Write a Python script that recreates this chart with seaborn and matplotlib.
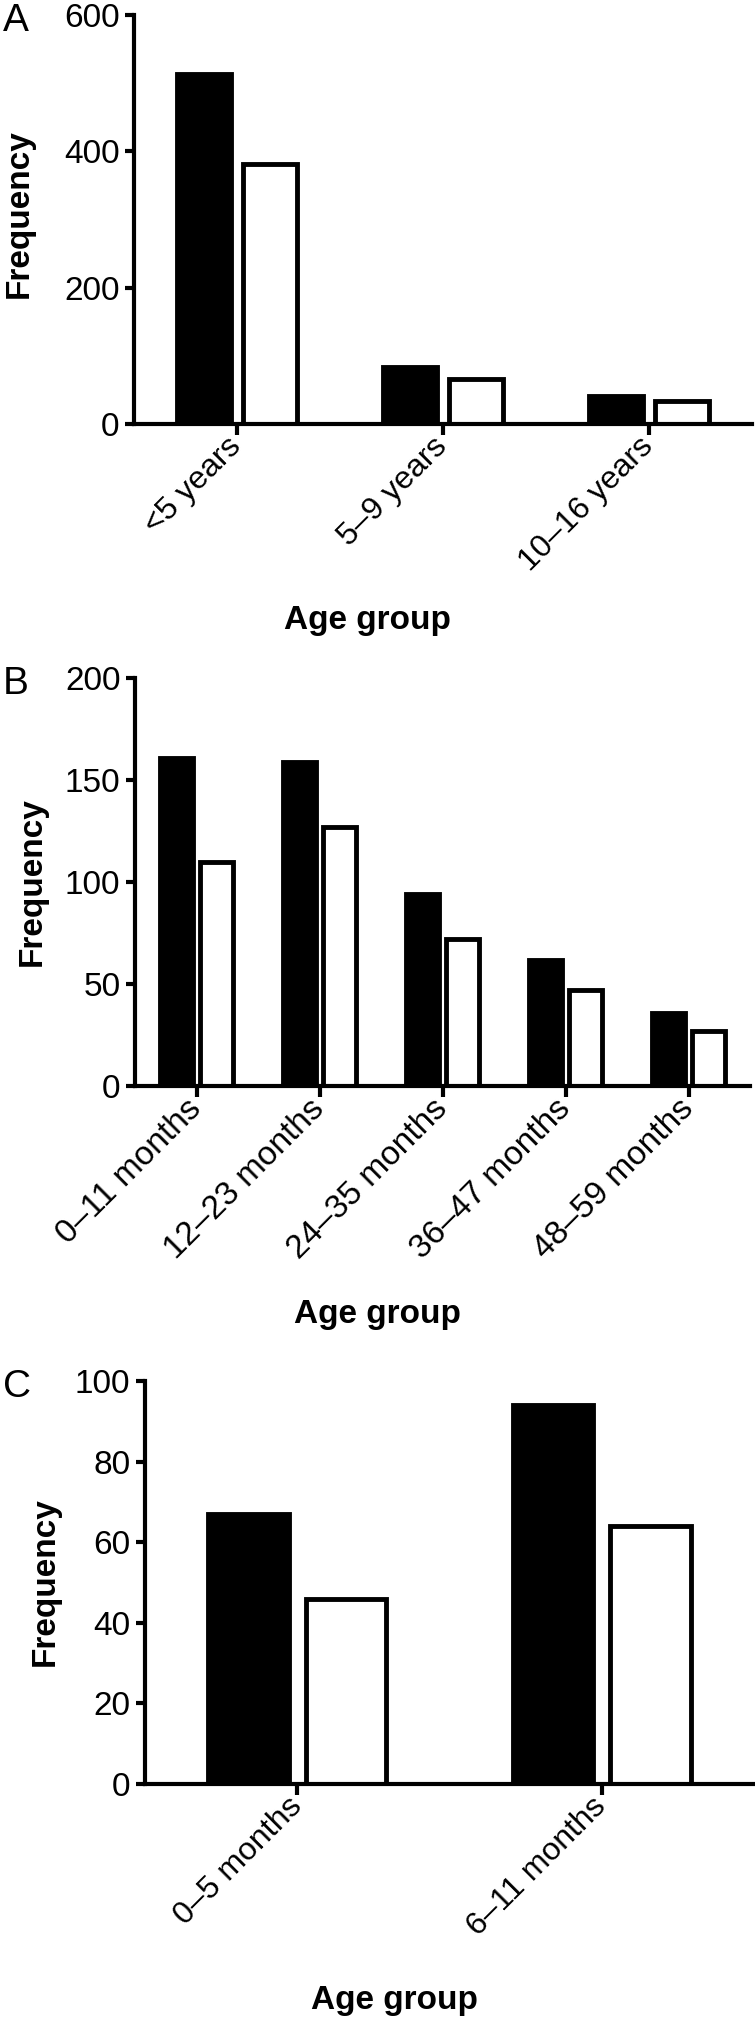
import pandas as pd
import matplotlib
matplotlib.use("Agg")
import matplotlib.pyplot as plt
import seaborn as sns

# panel A: all children by age band
groups_a = ["<5 years", "5–9 years", "10–16 years"]
filled_a = [513, 84, 41]
open_a = [382, 66, 34]

# panel B: under-fives by year of life
groups_b = ["0–11 months", "12–23 months", "24–35 months", "36–47 months", "48–59 months"]
filled_b = [161, 159, 94, 62, 36]
open_b = [110, 127, 72, 47, 27]

# panel C: infants
groups_c = ["0–5 months", "6–11 months"]
filled_c = [67, 94]
open_c = [46, 64]

series_names = ["Series 1", "Series 2"]


def make_frame(groups, filled, empty):
    rows = []
    for g, f, e in zip(groups, filled, empty):
        rows.append({"age": g, "series": series_names[0], "freq": f})
        rows.append({"age": g, "series": series_names[1], "freq": e})
    return pd.DataFrame(rows)


sns.set_style("ticks", {"axes.edgecolor": "black", "text.color": "black",
                        "axes.labelcolor": "black", "xtick.color": "black",
                        "ytick.color": "black"})
plt.rcParams["font.family"] = ["Liberation Sans", "DejaVu Sans"]

fig = plt.figure(figsize=(7.55, 20.19), dpi=100)
W, H = 755, 2019

# axes boxes in pixels: left, top, right, bottom
panels = [
    ("A", groups_a, filled_a, open_a, [0, 200, 400, 600], (134, 15, 752, 424), (19, 214), (367, 620), 23),
    ("B", groups_b, filled_b, open_b, [0, 50, 100, 150, 200], (135, 678, 750, 1086), (32, 882), (377, 1314), 24),
    ("C", groups_c, filled_c, open_c, [0, 20, 40, 60, 80, 100], (145, 1381, 754, 1784), (45, 1582), (394, 2000), 23),
]

for letter, groups, filled, empty, yticks, box, ylab_pos, xlab_pos, xtick_fs in panels:
    l, t, r, b = box
    ax = fig.add_axes([l / W, 1 - b / H, (r - l) / W, (b - t) / H])
    df = make_frame(groups, filled, empty)
    sns.barplot(data=df, x="age", y="freq", hue="series", palette=["black", "white"],
                saturation=1, edgecolor="black", linewidth=3.5, width=0.64, gap=0.17,
                errorbar=None, legend=False, ax=ax)
    ax.set_xlim(-0.5, len(groups) - 0.5)
    ax.set_ylim(0, yticks[-1])
    ax.set_yticks(yticks)
    sns.despine(ax=ax)
    for s in ["left", "bottom"]:
        ax.spines[s].set_linewidth(3)
    ax.tick_params(axis="y", length=6.5, width=3, pad=4, labelsize=24)
    ax.tick_params(axis="x", length=8, width=3, pad=5, labelsize=xtick_fs)
    plt.setp(ax.get_xticklabels(), rotation=45, ha="right", va="center", rotation_mode="anchor")

    ax.set_ylabel("Frequency", fontsize=24, fontweight="bold")
    ax.yaxis.label.set_verticalalignment("center")
    ax.yaxis.set_label_coords((ylab_pos[0] - l) / (r - l), (b - ylab_pos[1]) / (b - t))
    ax.set_xlabel("Age group", fontsize=24, fontweight="bold")
    ax.xaxis.label.set_verticalalignment("center")
    ax.xaxis.set_label_coords((xlab_pos[0] - l) / (r - l), (b - xlab_pos[1]) / (b - t))

    fig.text(3 / W, 1 - (t - 12) / H, letter, fontsize=28, ha="left", va="top")

fig.savefig("out.png", dpi=100)
